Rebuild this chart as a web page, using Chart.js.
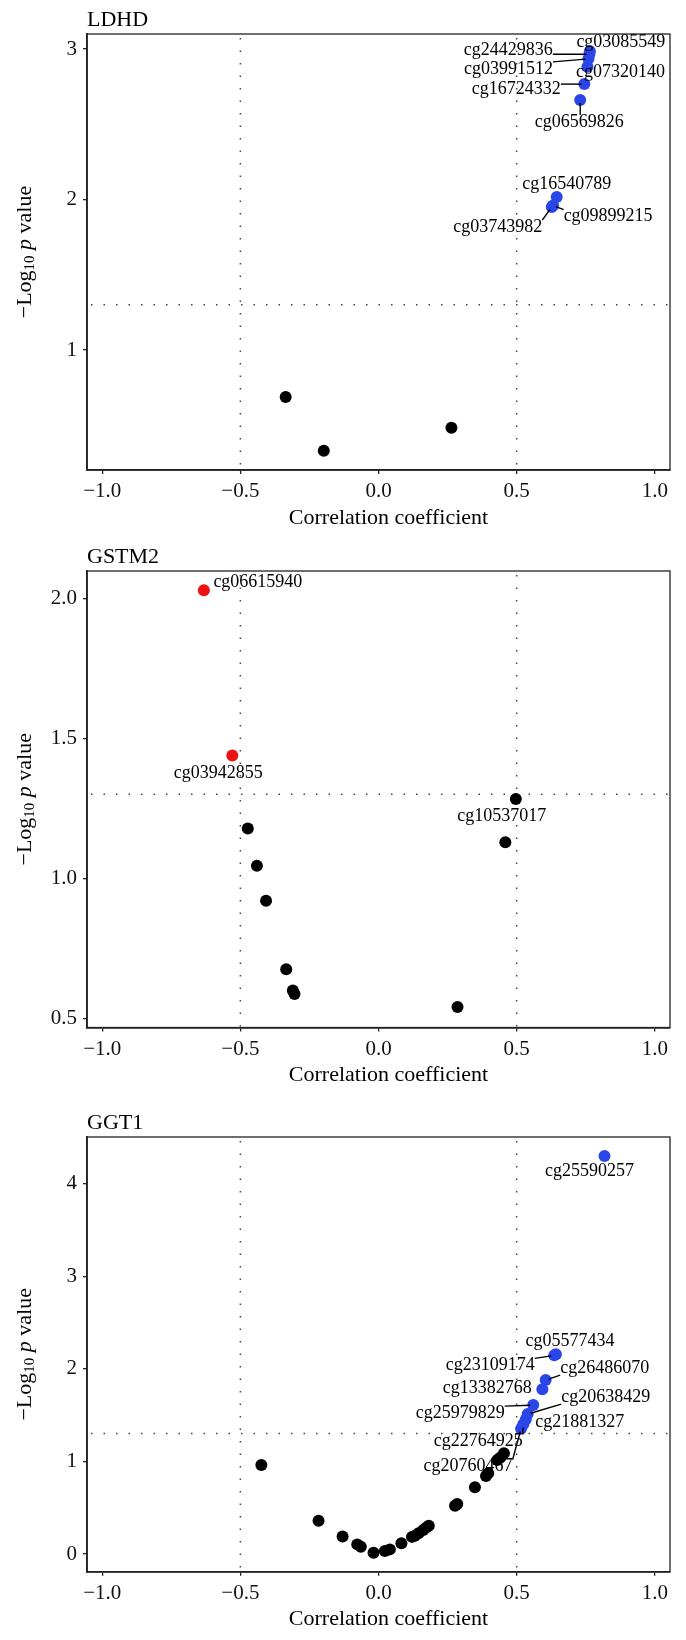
<!DOCTYPE html>
<html lang="en">
<head>
<meta charset="UTF-8">
<title>Correlation plots</title>
<script src="https://cdn.jsdelivr.net/npm/chart.js@4"></script>
<style>
  body { margin: 0; background: #fff; width: 686px; height: 1640px; position: relative; overflow: hidden; }
  .panel { position: absolute; left: 0; width: 686px; }
</style>
</head>
<body>
<div class="panel" style="top:0;height:545px"><canvas id="ldhd"></canvas></div>
<div class="panel" style="top:545px;height:555px"><canvas id="gstm2"></canvas></div>
<div class="panel" style="top:1100px;height:540px"><canvas id="ggt1"></canvas></div>
<script>
// shared axis / cut-off values
const xTicks = [-1, -0.5, 0, 0.5, 1];
const rCut = [-0.5, 0.5];
const pCut = 1.301; // -log10(0.05)

// LDHD
const ldhdYTicks = [1, 2, 3];
const ldhdBlackR = [-0.336, -0.198, 0.264];
const ldhdBlackP = [0.688, 0.331, 0.484];
const ldhdBlueNames = ['cg03085549', 'cg24429836', 'cg03991512', 'cg07320140', 'cg16724332',
                       'cg06569826', 'cg16540789', 'cg09899215', 'cg03743982'];
const ldhdBlueR = [0.765, 0.763, 0.760, 0.756, 0.745, 0.730, 0.645, 0.632, 0.627];
const ldhdBlueP = [2.985, 2.965, 2.935, 2.882, 2.767, 2.661, 2.017, 1.960, 1.950];

// GSTM2
const gstm2YTicks = [0.5, 1.0, 1.5, 2.0];
const gstm2BlackNames = ['cg10537017', '', '', '', '', '', '', '', '', ''];
const gstm2BlackR = [0.497, 0.459, -0.473, -0.440, -0.407, -0.334, -0.310, -0.304, 0.286];
const gstm2BlackP = [1.284, 1.130, 1.179, 1.046, 0.921, 0.676, 0.600, 0.588, 0.541];
const gstm2RedNames = ['cg06615940', 'cg03942855'];
const gstm2RedR = [-0.632, -0.529];
const gstm2RedP = [2.030, 1.440];

// GGT1
const ggt1YTicks = [0, 1, 2, 3, 4];
const ggt1BlackR = [-0.424, -0.217, -0.130, -0.077, -0.064, -0.018, 0.023, 0.041, 0.083, 0.121,
                    0.132, 0.145, 0.162, 0.173, 0.182, 0.277, 0.285, 0.349, 0.389, 0.397,
                    0.430, 0.440, 0.454];
const ggt1BlackP = [0.962, 0.359, 0.190, 0.104, 0.079, 0.014, 0.032, 0.050, 0.115, 0.185,
                    0.198, 0.225, 0.259, 0.285, 0.305, 0.522, 0.540, 0.720, 0.842, 0.871,
                    1.014, 1.040, 1.087];
const ggt1BlueNames = ['cg25590257', 'cg05577434', 'cg23109174', 'cg26486070', 'cg13382768',
                       'cg25979829', 'cg20638429', 'cg21881327', 'cg22764925', 'cg20760467'];
const ggt1BlueR = [0.818, 0.642, 0.636, 0.605, 0.593, 0.560, 0.540, 0.533, 0.524, 0.516];
const ggt1BlueP = [4.297, 2.158, 2.145, 1.878, 1.780, 1.608, 1.511, 1.453, 1.400, 1.353];

// label placement (pixel offset of label centre from its point, draw leader line?)
const labelLayout = {
  cg03085549: [31, -9, false], cg24429836: [-81, -4, true], cg03991512: [-80, 10, true],
  cg07320140: [33, 5, false], cg16724332: [-68, 5, true], cg06569826: [-1, 22, true],
  cg16540789: [10, -13, false], cg09899215: [55, 11, true], cg03743982: [-54, 20, true],
  cg06615940: [54, -8, false], cg03942855: [-14, 18, false], cg10537017: [-14, 17, false],
  cg25590257: [-15, 15, false], cg05577434: [14, -13, false], cg23109174: [-64, 10, true],
  cg26486070: [59, -12, true], cg13382768: [-55, -1, false], cg25979829: [-73, 8, true],
  cg20638429: [78, -17, true], cg21881327: [54, 3, false], cg22764925: [-45, 17, true],
  cg20760467: [-53, 38, true]
};

const serif = '"Liberation Serif", "Times New Roman", serif';
const BLACK = '#000000', BLUE = '#2a46e8', RED = '#ee1111';

function signed(v, d) {
  const s = Math.abs(v).toFixed(d);
  return v < -1e-9 ? '\u2212' + s : s;
}

const panelDecor = {
  id: 'panelDecor',
  beforeDatasetsDraw(chart) {
    const { ctx, chartArea: a, scales: { x, y } } = chart;
    ctx.save();
    ctx.beginPath();
    ctx.rect(a.left, a.top, a.right - a.left, a.bottom - a.top);
    ctx.clip();
    ctx.strokeStyle = '#444';
    ctx.lineWidth = 1.5;
    ctx.setLineDash([1.5, 11]);
    rCut.forEach(r => {
      const px = x.getPixelForValue(r);
      ctx.beginPath(); ctx.moveTo(px, a.top + 4); ctx.lineTo(px, a.bottom); ctx.stroke();
    });
    const py = y.getPixelForValue(pCut);
    ctx.beginPath(); ctx.moveTo(a.left + 4, py); ctx.lineTo(a.right, py); ctx.stroke();
    ctx.restore();
  },
  afterDatasetsDraw(chart) {
    const ctx = chart.ctx;
    ctx.save();
    ctx.font = '18px ' + serif;
    ctx.fillStyle = '#000';
    ctx.strokeStyle = '#000';
    ctx.lineWidth = 1.4;
    ctx.textAlign = 'center';
    ctx.textBaseline = 'middle';
    chart.data.datasets.forEach((ds, di) => {
      if (!ds.names) return;
      const meta = chart.getDatasetMeta(di);
      ds.names.forEach((name, i) => {
        const lay = labelLayout[name];
        if (!name || !lay) return;
        const p = meta.data[i];
        const cx = p.x + lay[0], cy = p.y + lay[1];
        const hw = ctx.measureText(name).width / 2, hh = 7;
        if (lay[2]) {
          const ex = Math.min(Math.max(p.x, cx - hw), cx + hw);
          const ey = Math.min(Math.max(p.y, cy - hh), cy + hh);
          const d = Math.hypot(ex - p.x, ey - p.y);
          if (d > 4) {
            const sx = p.x + (ex - p.x) / d * 3, sy = p.y + (ey - p.y) / d * 3;
            ctx.beginPath(); ctx.moveTo(sx, sy); ctx.lineTo(ex, ey); ctx.stroke();
          }
        }
        ctx.fillText(name, cx, cy);
      });
    });
    ctx.restore();
  },
  afterDraw(chart, args, opts) {
    const { ctx, chartArea: a } = chart;
    ctx.save();
    ctx.strokeStyle = '#222';
    ctx.lineWidth = 1.3;
    ctx.strokeRect(a.left, a.top, a.right - a.left, a.bottom - a.top);
    ctx.fillStyle = '#000';
    // panel title
    ctx.font = '22px ' + serif;
    ctx.textAlign = 'left';
    ctx.textBaseline = 'middle';
    ctx.fillText(opts.title, a.left, a.top - 14);
    // x title
    ctx.textAlign = 'center';
    ctx.fillText('Correlation coefficient', (a.left + a.right) / 2 + 10, a.bottom + 48);
    // y title: −Log10 p value
    const parts = [
      ['\u2212Log', '22px ' + serif, 0],
      ['10', '15px ' + serif, 5],
      [' ', '22px ' + serif, 0],
      ['p', 'italic 22px ' + serif, 0],
      [' value', '22px ' + serif, 0]
    ];
    let total = 0;
    parts.forEach(pt => { ctx.font = pt[1]; total += ctx.measureText(pt[0]).width; });
    ctx.translate(25, (a.top + a.bottom) / 2);
    ctx.rotate(-Math.PI / 2);
    ctx.textAlign = 'left';
    let cur = -total / 2;
    parts.forEach(pt => {
      ctx.font = pt[1];
      ctx.fillText(pt[0], cur, pt[2]);
      cur += ctx.measureText(pt[0]).width;
    });
    ctx.restore();
  }
};

function scatterSet(xs, ys, color, names) {
  return {
    data: xs.map((v, i) => ({ x: v, y: ys[i] })),
    names: names || null,
    backgroundColor: color,
    borderColor: color,
    borderWidth: 0,
    pointRadius: 6,
    pointHoverRadius: 6
  };
}

function makePanel(id, title, datasets, yMin, yMax, yTicks, yDigits, padTop, bottomSpace) {
  return new Chart(document.getElementById(id), {
    type: 'scatter',
    data: { datasets: datasets },
    options: {
      responsive: true,
      maintainAspectRatio: false,
      animation: false,
      events: [],
      layout: { padding: { top: padTop, right: 16, left: 0, bottom: 0 } },
      plugins: { legend: { display: false }, tooltip: { enabled: false }, panelDecor: { title: title } },
      scales: {
        x: {
          type: 'linear', min: -1.055, max: 1.055,
          afterBuildTicks: s => { s.ticks = xTicks.map(v => ({ value: v })); },
          afterFit: s => { s.height = bottomSpace; s.paddingLeft = 0; s.paddingRight = 0; },
          ticks: { callback: v => signed(v, 1), font: { family: serif, size: 21 }, color: '#111',
                   padding: 5, maxRotation: 0, autoSkip: false },
          grid: { drawOnChartArea: false, drawTicks: true, tickLength: 4, color: '#222', lineWidth: 1.3 },
          border: { display: true, color: '#222', width: 1.8 }
        },
        y: {
          type: 'linear', min: yMin, max: yMax,
          afterBuildTicks: s => { s.ticks = yTicks.map(v => ({ value: v })); },
          afterFit: s => { s.width = 87; s.paddingTop = 0; s.paddingBottom = 0; },
          ticks: { callback: v => signed(v, yDigits), font: { family: serif, size: 21 }, color: '#111',
                   padding: 6, autoSkip: false },
          grid: { drawOnChartArea: false, drawTicks: true, tickLength: 4, color: '#222', lineWidth: 1.3 },
          border: { display: true, color: '#222', width: 1.8 }
        }
      }
    },
    plugins: [panelDecor]
  });
}

makePanel('ldhd', 'LDHD', [
  scatterSet(ldhdBlackR, ldhdBlackP, BLACK),
  scatterSet(ldhdBlueR, ldhdBlueP, BLUE, ldhdBlueNames)
], 0.203, 3.10, ldhdYTicks, 0, 34, 75);

makePanel('gstm2', 'GSTM2', [
  scatterSet(gstm2BlackR, gstm2BlackP, BLACK, gstm2BlackNames),
  scatterSet(gstm2RedR, gstm2RedP, RED, gstm2RedNames)
], 0.468, 2.099, gstm2YTicks, 1, 26, 72.5);

makePanel('ggt1', 'GGT1', [
  scatterSet(ggt1BlackR, ggt1BlackP, BLACK),
  scatterSet(ggt1BlueR, ggt1BlueP, BLUE, ggt1BlueNames)
], -0.191, 4.503, ggt1YTicks, 0, 37, 68.3);
</script>
</body>
</html>
